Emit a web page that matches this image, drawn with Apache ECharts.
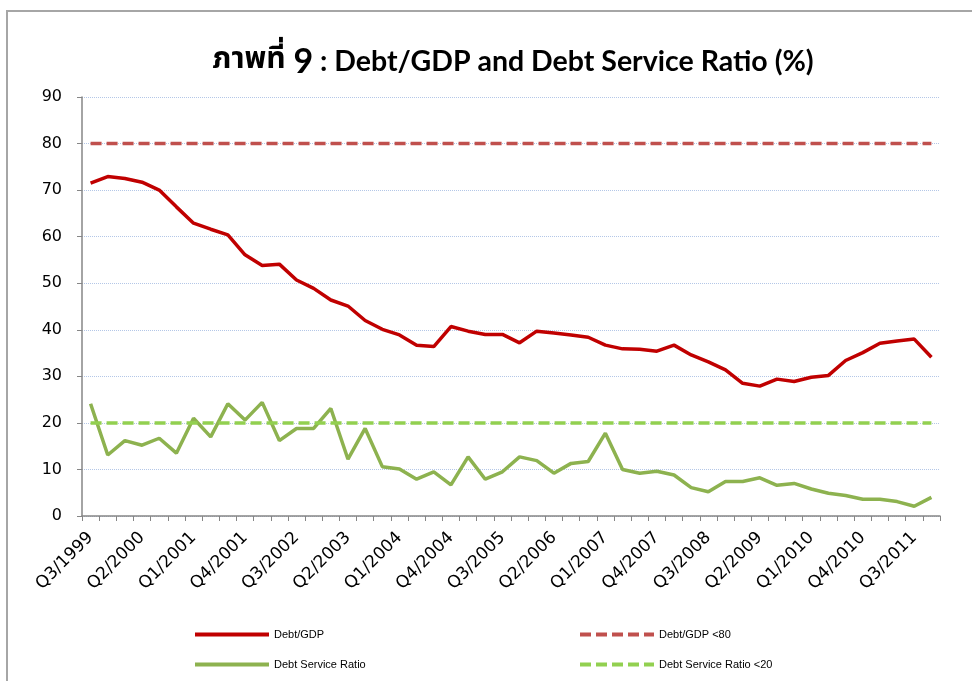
<!DOCTYPE html>
<html>
<head>
<meta charset="utf-8">
<script src="https://cdn.jsdelivr.net/npm/echarts@6/dist/echarts.min.js"></script>
<style>
  html, body { margin: 0; padding: 0; background: #fff; }
  #box-view { width: 972px; height: 681px; }
</style>
</head>
<body>
<div id="box-view"></div>
<script>
// quarters Q3/1999 .. Q4/2011
let quarters = [];
for (let y = 1999; y <= 2011; y++) {
  for (let q = 1; q <= 4; q++) {
    if (y === 1999 && q < 3) continue;
    quarters.push('Q' + q + '/' + y);
  }
}

let debtGdp = [
  71.5, 72.9, 72.5, 71.7, 70.0, 66.4, 62.9, 61.6, 60.4, 56.1,
  53.8, 54.1, 50.7, 48.9, 46.4, 45.1, 42.0, 40.1, 38.9, 36.7,
  36.4, 40.7, 39.7, 39.0, 39.0, 37.2, 39.7, 39.3, 38.9, 38.4,
  36.7, 35.9, 35.8, 35.4, 36.7, 34.6, 33.1, 31.4, 28.5, 27.9,
  29.4, 28.9, 29.8, 30.2, 33.4, 35.1, 37.1, 37.6, 38.0, 34.1
];

let debtService = [
  24.1, 13.1, 16.2, 15.2, 16.7, 13.5, 21.0, 17.0, 24.1, 20.6,
  24.4, 16.2, 18.8, 18.8, 23.1, 12.2, 18.8, 10.6, 10.1, 7.9,
  9.5, 6.7, 12.7, 7.9, 9.5, 12.7, 11.9, 9.2, 11.3, 11.7,
  17.8, 10.0, 9.2, 9.6, 8.8, 6.1, 5.2, 7.4, 7.4, 8.2,
  6.6, 7.0, 5.8, 4.9, 4.4, 3.6, 3.6, 3.1, 2.1, 4.0
];

let gdpLimit = quarters.map(function () { return 80; });
let dsrLimit = quarters.map(function () { return 20; });

let legendFont = { fontFamily: 'Liberation Sans', fontSize: 11, color: '#000' };
let legendBase = {
  itemWidth: 74, itemHeight: 14, itemGap: 6,
  itemStyle: { opacity: 0 },
  lineStyle: { width: 4 },
  textStyle: legendFont
};

let option = {
  backgroundColor: '#fff',
  animation: false,
  graphic: [{
    type: 'rect',
    shape: { x: 7, y: 11, width: 1000, height: 720 },
    style: { fill: null, stroke: '#a6a6a6', lineWidth: 2 },
    silent: true
  }],
  title: {
    left: 508,
    top: 40,
    textAlign: 'center',
    text: '{a|ภาพที่ }{b|9}{c| : Debt/GDP and Debt Service Ratio (%)}',
    textStyle: {
      rich: {
        a: { fontFamily: "'Noto Sans Thai', 'Noto Sans', sans-serif", fontSize: 30, fontWeight: 'bold', color: '#000' },
        b: { fontFamily: 'Lato', fontSize: 34, fontWeight: 'bold', color: '#000' },
        c: { fontFamily: 'Lato', fontSize: 28.5, fontWeight: 'bold', color: '#000' }
      }
    }
  },
  legend: [
    Object.assign({ left: 188, top: 624, data: ['Debt/GDP'] }, legendBase),
    Object.assign({ left: 573, top: 624, data: ['Debt/GDP <80'] }, legendBase),
    Object.assign({ left: 188, top: 654, data: ['Debt Service Ratio'] }, legendBase),
    Object.assign({ left: 573, top: 654, data: ['Debt Service Ratio <20'] }, legendBase)
  ],
  grid: {
    left: 82,
    right: 32,
    top: 97,
    bottom: 165
  },
  xAxis: {
    type: 'category',
    data: quarters,
    boundaryGap: true,
    axisLine: { show: true, lineStyle: { color: '#868686', width: 1.5 } },
    axisTick: { show: true, interval: 0, length: 5, lineStyle: { color: '#868686' } },
    axisLabel: {
      interval: 2,
      rotate: 45,
      margin: 19,
      fontFamily: 'DejaVu Sans',
      fontSize: 17,
      color: '#000'
    },
    splitLine: { show: false }
  },
  yAxis: {
    type: 'value',
    min: 0,
    max: 90,
    interval: 10,
    axisLine: { show: true, lineStyle: { color: '#868686', width: 1.5 } },
    axisTick: { show: true, length: 5, lineStyle: { color: '#868686' } },
    axisLabel: {
      margin: 20,
      fontFamily: 'DejaVu Sans',
      fontSize: 16,
      color: '#000'
    },
    splitLine: {
      show: true,
      lineStyle: { color: '#b4c7e7', type: 'dotted', width: 1 }
    }
  },
  series: [
    {
      name: 'Debt/GDP',
      type: 'line',
      data: debtGdp,
      symbol: 'none',
      lineStyle: { color: '#c00000', width: 3.5 },
      itemStyle: { color: '#c00000' }
    },
    {
      name: 'Debt/GDP <80',
      type: 'line',
      data: gdpLimit,
      symbol: 'none',
      lineStyle: { color: '#c0504d', width: 3.5, type: [11, 5] },
      itemStyle: { color: '#c0504d' }
    },
    {
      name: 'Debt Service Ratio',
      type: 'line',
      data: debtService,
      symbol: 'none',
      lineStyle: { color: '#8db24f', width: 3.5 },
      itemStyle: { color: '#8db24f' }
    },
    {
      name: 'Debt Service Ratio <20',
      type: 'line',
      data: dsrLimit,
      symbol: 'none',
      lineStyle: { color: '#92d050', width: 3.5, type: [11, 5] },
      itemStyle: { color: '#92d050' }
    }
  ]
};

//初始化图表
let chart = echarts.init(document.getElementById('box-view'));
chart.setOption(option);
</script>
</body>
</html>
